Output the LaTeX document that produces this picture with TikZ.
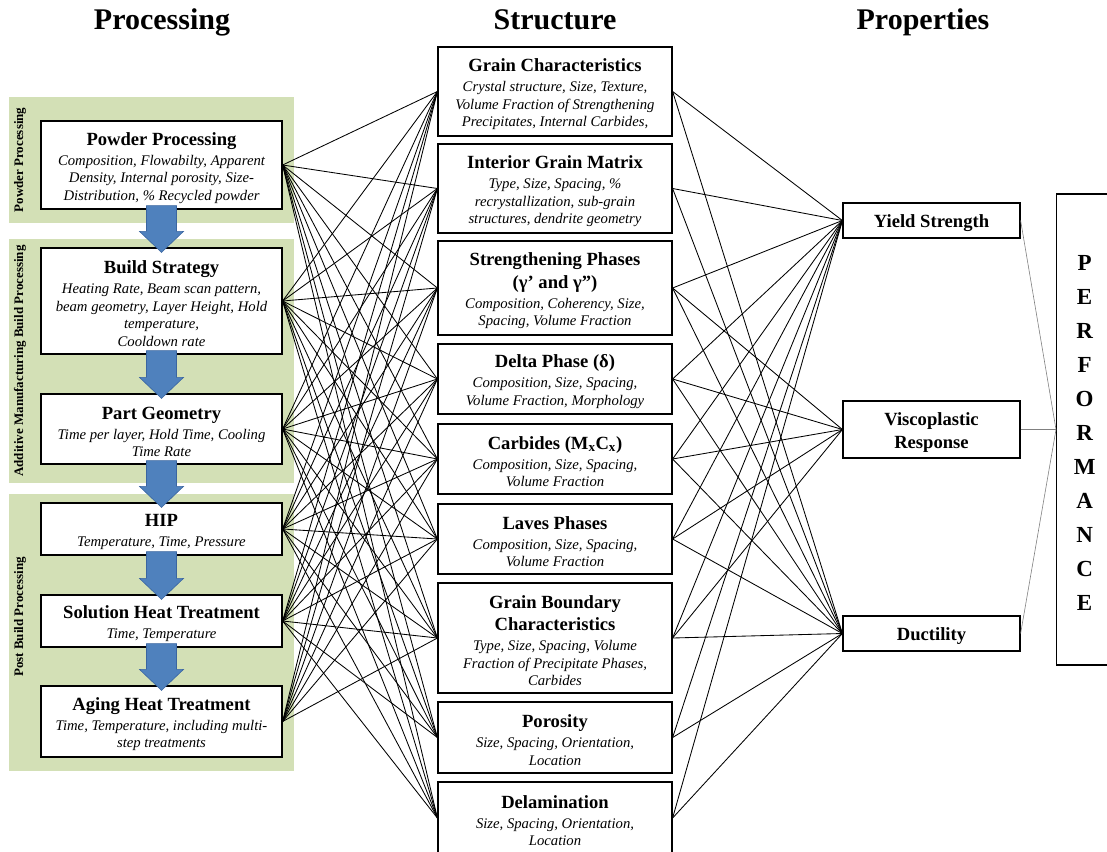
\documentclass[tikz,border=0pt]{standalone}
\usepackage{fontspec}
\setmainfont{Liberation Serif}
\usetikzlibrary{calc}
\definecolor{panelgreen}{HTML}{D3E0B6}
\definecolor{arrowblue}{HTML}{4F81BD}
\definecolor{arrowedge}{HTML}{3A65A0}
% bold heading line, first bold line (with a top strut), italic description line
\newcommand\hd[1]{{\fontsize{18.6}{21}\selectfont\bfseries #1}}
\newcommand\hdtop[1]{\rule{0pt}{18.5pt}\hd{#1}}
\newcommand\ds[1]{{\fontsize{14.7}{17.5}\selectfont\itshape #1}}
\newcommand\tbr{\\[2.5pt]}
% block arrow between two stacked processing boxes
\newcommand\flowarrow[2]{%
  \filldraw[flow] let \p1=(#1.south), \p2=(#2.north) in
    (\x1-15pt,\y1+4pt) -- (\x1+15pt,\y1+4pt) -- (\x1+15pt,\y2+16pt) --
    (\x1+22pt,\y2+16pt) -- (\x1,\y2-5pt) -- (\x1-22pt,\y2+16pt) --
    (\x1-15pt,\y2+16pt) -- cycle;}
\begin{document}
\begin{tikzpicture}[x=1pt,y=-1pt,
  box/.style={draw=black, line width=1.2pt, fill=white, align=center, inner sep=2pt,
    font=\fontsize{14.7}{17.5}\selectfont},
  procbox/.style={box, minimum width=241pt},
  structbox/.style={box, minimum width=234pt},
  propbox/.style={box, minimum width=177pt},
  link/.style={line width=0.85pt, black},
  perf link/.style={line width=0.6pt, gray},
  heading/.style={font=\fontsize{30}{34}\selectfont\bfseries, anchor=base},
  band/.style={fill=panelgreen, draw=none},
  side label/.style={rotate=90, font=\fontsize{13}{15}\selectfont\bfseries},
  flow/.style={fill=arrowblue, draw=arrowedge, line width=0.6pt}
]
\useasboundingbox (0,0) rectangle (1107,851);

% column headings
\node[heading] (hproc) at (162,30) {Processing};
\node[heading] (hstruct) at (555,30) {Structure};
\node[heading] (hprop) at (923,30) {Properties};

% processing stages on green bands
\fill[band] (9,97) rectangle (294,223);
\fill[band] (9,239) rectangle (294,483);
\fill[band] (9,494) rectangle (294,771);
\node[side label] (lpow) at (20,160) {Powder Processing};
\node[side label] (lbuild) at (20,361) {Additive Manufacturing Build Processing};
\node[side label] (lpost) at (20,617) {Post Build Processing};

\node[procbox, minimum height=88pt] (pp) at (161.5,165)
  {\hdtop{Powder Processing}\tbr \ds{Composition, Flowabilty, Apparent}\\
   \ds{Density, Internal porosity, Size-}\\ \ds{Distribution, \% Recycled powder}};
\node[procbox, minimum height=106pt] (bs) at (161.5,301)
  {\hdtop{Build Strategy}\tbr \ds{Heating Rate, Beam scan pattern,}\\
   \ds{beam geometry, Layer Height, Hold}\\ \ds{temperature,}\\ \ds{Cooldown rate}};
\node[procbox, minimum height=70pt] (pg) at (161.5,429)
  {\hdtop{Part Geometry}\tbr \ds{Time per layer, Hold Time, Cooling}\\ \ds{Time Rate}};
\node[procbox, minimum height=52pt] (hip) at (161.5,529)
  {\hdtop{HIP}\tbr \ds{Temperature, Time, Pressure}};
\node[procbox, minimum height=52pt] (sht) at (161.5,621)
  {\hdtop{Solution Heat Treatment}\tbr \ds{Time, Temperature}};
\node[procbox, minimum height=71pt] (aht) at (161.5,721.5)
  {\hdtop{Aging Heat Treatment}\tbr \ds{Time, Temperature, including multi-}\\ \ds{step treatments}};

% structure features
\node[structbox, minimum height=89pt] (gc) at (555,91.5)
  {\hdtop{Grain Characteristics}\tbr \ds{Crystal structure, Size, Texture,}\\
   \ds{Volume Fraction of Strengthening}\\ \ds{Precipitates, Internal Carbides,}};
\node[structbox, minimum height=89pt] (igm) at (555,188.5)
  {\hdtop{Interior Grain Matrix}\tbr \ds{Type, Size, Spacing, \%}\\
   \ds{recrystallization, sub-grain}\\ \ds{structures, dendrite geometry}};
\node[structbox, minimum height=94pt] (sp) at (555,288)
  {\hdtop{Strengthening Phases}\\[5pt] \hd{(γ’ and γ”)}\tbr
   \ds{Composition, Coherency, Size,}\\ \ds{Spacing, Volume Fraction}};
\node[structbox, minimum height=70pt] (dp) at (555,379)
  {\hdtop{Delta Phase (δ)}\tbr \ds{Composition, Size, Spacing,}\\ \ds{Volume Fraction, Morphology}};
\node[structbox, minimum height=70pt] (cb) at (555,459)
  {\hdtop{Carbides (M\textsubscript{x}C\textsubscript{x})}\tbr \ds{Composition, Size, Spacing,}\\ \ds{Volume Fraction}};
\node[structbox, minimum height=70pt] (lp) at (555,539)
  {\hdtop{Laves Phases}\tbr \ds{Composition, Size, Spacing,}\\ \ds{Volume Fraction}};
\node[structbox, minimum height=110pt] (gb) at (555,638)
  {\hdtop{Grain Boundary}\\[5pt] \hd{Characteristics}\tbr \ds{Type, Size, Spacing, Volume}\\
   \ds{Fraction of  Precipitate Phases,}\\ \ds{Carbides}};
\node[structbox, minimum height=71pt] (po) at (555,737.5)
  {\hdtop{Porosity}\tbr \ds{Size, Spacing, Orientation,}\\ \ds{Location}};
\node[structbox, minimum height=72pt] (de) at (555,818)
  {\hdtop{Delamination}\tbr \ds{Size, Spacing, Orientation,}\\ \ds{Location}};

% properties and performance
\node[propbox, minimum height=35pt] (ys) at (931.5,220.5) {\hdtop{Yield Strength}};
\node[propbox, minimum height=57pt] (vr) at (931.5,429.5) {\hdtop{Viscoplastic}\\[5pt] \hd{Response}};
\node[propbox, minimum height=35pt] (du) at (931.5,633.5) {\hdtop{Ductility}};
\node[box, minimum width=56pt, minimum height=471pt, anchor=west,
  font=\fontsize{23}{34}\selectfont\bfseries] (perf) at (1056,429.5)
  {\rule{0pt}{22pt}P\\E\\R\\F\\O\\R\\M\\A\\N\\C\\E};

% processing -> structure
\foreach \p in {pp,bs,pg,hip,sht}
  \foreach \s in {gc,igm,sp,dp,cb,lp,gb,po,de}
    \draw[link] (\p.east) -- (\s.west);
\foreach \s in {gc,igm,sp,dp,cb,lp,gb}
  \draw[link] (aht.east) -- (\s.west);

% structure -> properties
\foreach \s in {gc,igm,sp,dp,cb,lp,gb,po,de} {
  \draw[link] (\s.east) -- (ys.west);
  \draw[link] (\s.east) -- (du.west);
}
\foreach \s in {sp,dp,cb,lp,gb}
  \draw[link] (\s.east) -- (vr.west);

% properties -> performance
\foreach \q in {ys,vr,du}
  \draw[perf link] (\q.east) -- (perf.west);

% flow between processing stages
\flowarrow{pp}{bs}
\flowarrow{bs}{pg}
\flowarrow{pg}{hip}
\flowarrow{hip}{sht}
\flowarrow{sht}{aht}
\end{tikzpicture}
\end{document}
